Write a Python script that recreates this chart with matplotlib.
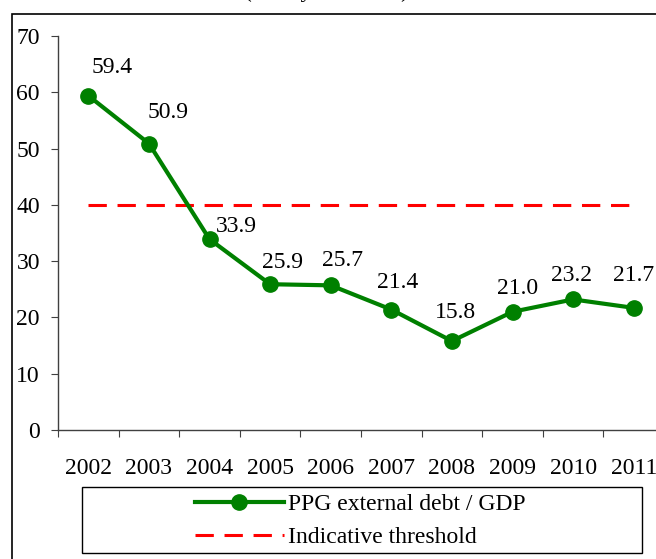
import matplotlib.pyplot as plt
from matplotlib.patches import Rectangle

years = ['2002', '2003', '2004', '2005', '2006', '2007', '2008', '2009', '2010', '2011']
debt_gdp = [59.4, 50.9, 33.9, 25.9, 25.7, 21.4, 15.8, 21.0, 23.2, 21.7]
threshold = [40] * len(years)
yticks = [0, 10, 20, 30, 40, 50, 60, 70]

# label offsets in pixels (dx, dy) from point to label centre
label_offsets = [(24, 28), (19, 31), (27, 13), (12, 22), (12, 25),
                 (6, 27), (4, 29), (5, 23), (-2, 24), (0, 32)]

plt.rcParams['font.family'] = ['Liberation Serif', 'DejaVu Serif']
FS = 17

fig = plt.figure(figsize=(6.56, 5.59), dpi=100)
W, H = 656, 559

# outer chart frame (cropped on right and bottom)
fig.patches.append(Rectangle((12 / W, -0.1), 1.2, 1.1 - 14 / H, transform=fig.transFigure,
                             fill=False, edgecolor='black', lw=1.2))

# title, mostly cut off at the top
fig.text(326 / W, 1 + 3 / H, '(Policy Scenario)', ha='center', va='baseline', fontsize=FS)

ax = fig.add_axes([58 / W, 1 - 430 / H, (664 - 58) / W, (430 - 36) / H])
x = list(range(len(years)))

ax.plot(x, debt_gdp, color='#008000', lw=3, marker='o', markersize=11,
        label='PPG external debt / GDP', zorder=3)
ax.plot(x, threshold, color='red', lw=2.2, linestyle=(0, (6, 3.5)),
        label='Indicative threshold', zorder=2)

for xi, v, (dx, dy) in zip(x, debt_gdp, label_offsets):
    ax.annotate(f'{v:.1f}', (xi, v), xytext=(dx * 0.72, dy * 0.72), textcoords='offset points',
                ha='center', va='center', fontsize=FS)

ax.set_xlim(-0.5, len(years) - 0.5)
ax.set_ylim(0, 70)
ax.set_yticks(yticks)
ax.set_yticklabels([str(t) for t in yticks])
ax.set_xticks([i - 0.5 for i in range(len(years) + 1)])
ax.set_xticklabels([])
ax.set_xticks(x, minor=True)
ax.set_xticklabels(years, minor=True)
ax.tick_params(axis='x', which='minor', length=0, pad=20, labelsize=FS)
ax.tick_params(axis='x', which='major', length=5, direction='out', color='#404040')
ax.tick_params(axis='y', length=5, direction='out', pad=8, labelsize=FS, color='#404040')
for s in ['top', 'right']:
    ax.spines[s].set_visible(False)
for s in ['left', 'bottom']:
    ax.spines[s].set_color('#404040')
    ax.spines[s].set_linewidth(1)

# legend box
fig.patches.append(Rectangle((82 / W, 1 - 553 / H), (642 - 82) / W, (553 - 487) / H,
                             transform=fig.transFigure, fill=False, edgecolor='black', lw=1))
fig.legend(loc='center', bbox_to_anchor=(360 / W, 1 - 521 / H), frameon=False,
           fontsize=FS, handlelength=3.8, handletextpad=0.15, labelspacing=0.5)

fig.savefig('out.png', dpi=100)
